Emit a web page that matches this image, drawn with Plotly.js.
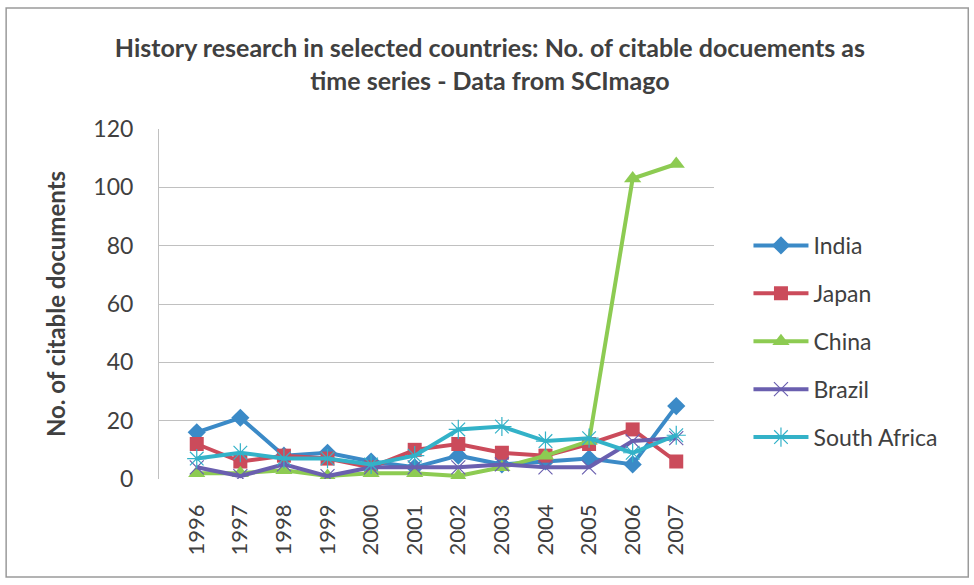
<!DOCTYPE html>
<html>
<head>
<meta charset="utf-8">
<script src="https://cdn.plot.ly/plotly-3.0.1.min.js"></script>
<style>
html,body{margin:0;padding:0;background:#fff;}
#chart{width:974px;height:585px;}
</style>
</head>
<body>
<div id="chart"></div>
<script>
var years = ['1996','1997','1998','1999','2000','2001','2002','2003','2004','2005','2006','2007'];
var india = [16, 21, 8, 9, 6, 4, 8, 5, 6, 7, 5, 25];
var japan = [12, 6, 8, 7, 4, 10, 12, 9, 8, 12, 17, 6];
var china = [2, 2, 3, 1, 2, 2, 1, 4, 8, 13, 103, 108];
var brazil = [4, 1, 5, 1, 4, 4, 4, 5, 4, 4, 13, 14];
var southAfrica = [7, 9, 7, 7, 5, 8, 17, 18, 13, 14, 9, 15];
var seriesNames = ['India', 'Japan', 'China', 'Brazil', 'South Africa'];
var yTicks = [0, 20, 40, 60, 80, 100, 120];

var W = 974, H = 585;
var L = 159, R = 714.5, T = 129, B = 479;
function px2x(p){ return (p - L) / (R - L); }
function px2y(p){ return (B - p) / (B - T); }

var styles = [
  {color:'#3B8AC7', symbol:'diamond', size:14, mline:0},
  {color:'#CB4B5B', symbol:'square', size:14, mline:0},
  {color:'#8DCB52', symbol:'triangle-up', size:15, mline:0},
  {color:'#6A5FAF', symbol:'x-thin-open', size:14, mline:1.2},
  {color:'#33B2C8', symbol:'asterisk-open', size:16, mline:1.2}
];
var values = [india, japan, china, brazil, southAfrica];

var traces = values.map(function(v, i){
  var s = styles[i];
  return {
    type:'scatter', mode:'lines+markers', x: years, y: v, name: seriesNames[i],
    legendgroup: 'g'+i,
    line:{color:s.color, width:4},
    marker:{symbol:s.symbol, size:s.size, color:s.color, line:{color:s.color, width:s.mline}}
  };
});

var font = 'Lato, "Open Sans", sans-serif';
var layout = {
  width: W, height: H,
  margin: {l: L, r: W - R, t: T, b: H - B, pad: 0},
  paper_bgcolor: '#fff', plot_bgcolor: '#fff',
  font: {family: font, color: '#404040'},
  title: {
    text: '<b>History research in selected countries: No. of citable docuements as<br>time series - Data from SCImago</b>',
    font: {family: font, size: 25, color: '#404040'},
    x: 0.503, xref: 'container', xanchor: 'center',
    y: 1 - 57/H, yref: 'container', yanchor: 'middle'
  },
  xaxis: {
    type: 'category', tickvals: years, ticktext: years,
    tickangle: -90, tickfont: {size: 22, family: font, color: '#404040'},
    showgrid: false, zeroline: false, showline: false, ticks: '',
    ticklabelstandoff: 20
  },
  yaxis: {
    range: [0, 120], tickvals: yTicks, ticktext: yTicks.map(String),
    tickfont: {size: 23, family: font, color: '#404040'},
    showgrid: true, gridcolor: '#C0C0C0', gridwidth: 1,
    zeroline: false, showline: true, linecolor: '#C0C0C0', linewidth: 1,
    ticks: '', ticklabelstandoff: 20,
    title: {text: '<b>No. of citable documents</b>', font: {size: 24, family: font, color: '#404040'}, standoff: 20}
  },
  legend: {
    x: px2x(749), y: px2y(224), xanchor: 'left', yanchor: 'top',
    font: {size: 23, family: font, color: '#404040'},
    tracegroupgap: 15, traceorder: 'grouped', bgcolor: 'rgba(0,0,0,0)', itemwidth: 55
  },
  shapes: [{
    type: 'rect', xref: 'paper', yref: 'paper',
    x0: px2x(6), x1: px2x(969), y0: px2y(577), y1: px2y(8),
    line: {color: '#9A9A9A', width: 1.5}, fillcolor: 'rgba(0,0,0,0)', layer: 'below'
  }],
  showlegend: true
};

Plotly.newPlot('chart', traces, layout, {displayModeBar: false, staticPlot: true});
</script>
</body>
</html>
